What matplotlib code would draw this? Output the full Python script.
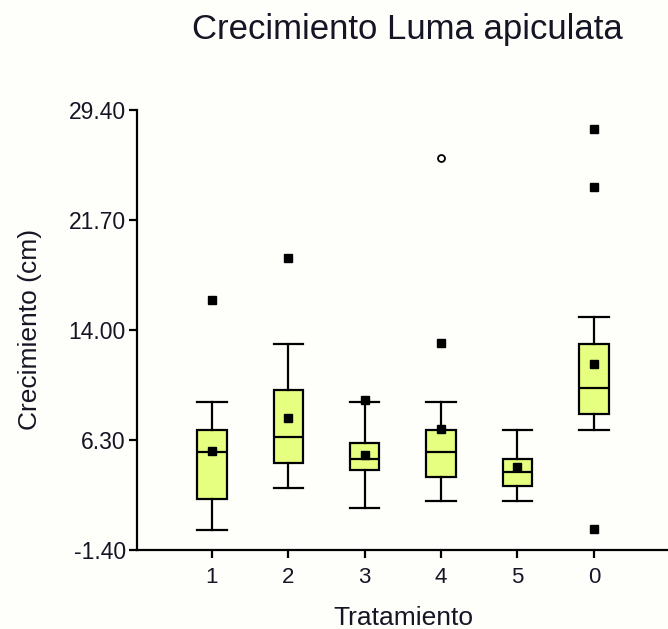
import matplotlib
matplotlib.use('Agg')
import matplotlib.pyplot as plt

# box plot values
categories = ['1', '2', '3', '4', '5', '0']
whisker_lo = [0.00, 2.96, 1.56, 2.03, 2.03, 7.00]
q1 = [2.19, 4.67, 4.20, 3.73, 3.08, 8.10]
medians = [5.48, 6.53, 4.95, 5.48, 4.04, 9.96]
q3 = [7.00, 9.78, 6.07, 7.00, 4.97, 13.04]
whisker_hi = [8.98, 13.04, 8.99, 8.99, 6.98, 14.91]
means = [5.55, 7.86, 5.23, 7.05, 4.39, 11.60]
outliers = [[16.10], [19.02], [9.10], [13.11], [], [28.05, 23.99, 0.07]]
extremes = [[], [], [], [26.02], [], []]

yticks = [-1.40, 6.30, 14.00, 21.70, 29.40]

bg = '#FEFEFA'
fill = '#E6FF80'
txt = '#151525'

plt.rcParams['font.family'] = ['Liberation Sans', 'DejaVu Sans']

fig = plt.figure(figsize=(6.68, 6.29), dpi=100, facecolor=bg)
ax = fig.add_axes([137 / 668, 79 / 629, 531 / 668, 440 / 629], facecolor=bg)

pos = list(range(1, len(categories) + 1))
stats = []
for i, c in enumerate(categories):
    stats.append(dict(label=c, whislo=whisker_lo[i], q1=q1[i], med=medians[i],
                      q3=q3[i], whishi=whisker_hi[i], mean=means[i],
                      fliers=outliers[i]))

lw = 1.6
ax.bxp(stats, positions=pos, widths=0.385, patch_artist=True, showmeans=True,
       capwidths=0.385,
       boxprops=dict(facecolor=fill, edgecolor='black', linewidth=lw),
       medianprops=dict(color='black', linewidth=lw),
       whiskerprops=dict(color='black', linewidth=lw),
       capprops=dict(color='black', linewidth=lw),
       meanprops=dict(marker='s', markerfacecolor='black', markeredgecolor='black',
                      markersize=6),
       flierprops=dict(marker='s', markerfacecolor='black', markeredgecolor='black',
                       markersize=6, linestyle='none'))

for p, ex in zip(pos, extremes):
    if ex:
        ax.plot([p] * len(ex), ex, 'o', markerfacecolor='white',
                markeredgecolor='black', markersize=5, markeredgewidth=1.3)

ax.set_xlim(0.02, 6.97)
ax.set_ylim(-1.40, 29.40)
ax.set_yticks(yticks)
ax.set_yticklabels(['%.2f' % v for v in yticks])
ax.set_xticks(pos)
ax.set_xticklabels(categories)

for s in ['top', 'right']:
    ax.spines[s].set_visible(False)
for s in ['left', 'bottom']:
    ax.spines[s].set_linewidth(1.6)
    ax.spines[s].set_color('black')

ax.tick_params(axis='both', direction='out', length=6, width=1.6, colors='black',
               labelcolor=txt, labelsize=16)
ax.tick_params(axis='y', pad=2, labelsize=16.5)
ax.tick_params(axis='x', pad=6)

fig.text(407 / 668, 1 - 30 / 629, 'Crecimiento Luma apiculata', ha='center',
         va='center', fontsize=25, color=txt)
fig.text(403 / 668, 4 / 629, 'Tratamiento', ha='center', va='baseline',
         fontsize=19, color=txt)
fig.text(30 / 668, 1 - 329 / 629, 'Crecimiento (cm)', ha='center', va='center',
         rotation=90, fontsize=19, color=txt)

fig.savefig('out.png', dpi=100, facecolor=bg)
